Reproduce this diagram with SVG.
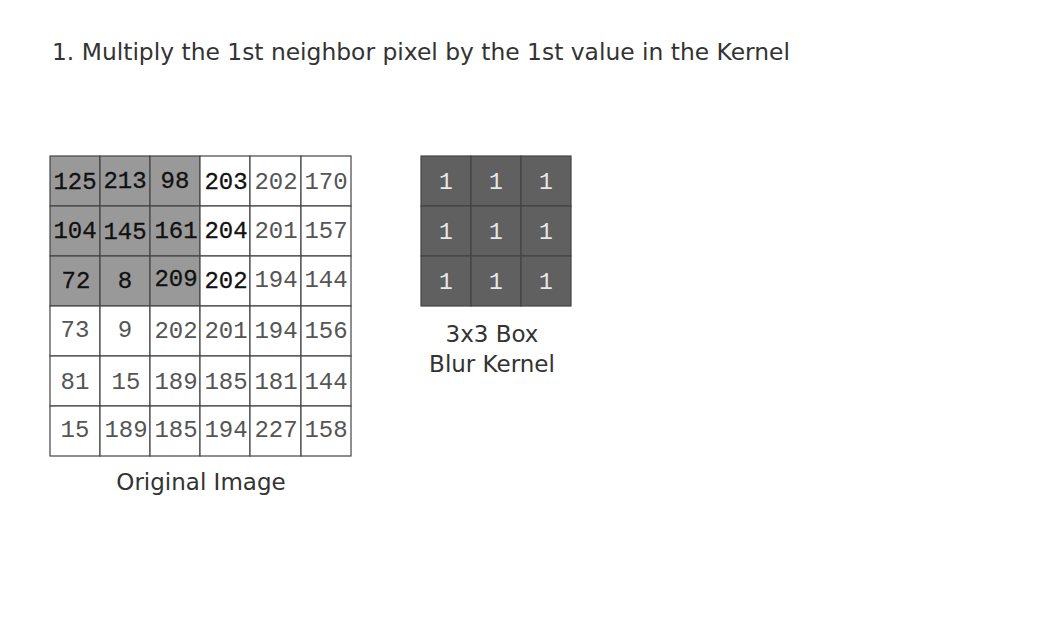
<svg xmlns="http://www.w3.org/2000/svg" width="1050" height="625" viewBox="0 0 1050 625">
<style>
.bg{fill:#fff}
.c{fill:#fff;stroke:#444;stroke-width:1.2}
.g{fill:#999;stroke:#444;stroke-width:1.2}
.k{fill:#606060;stroke:#444;stroke-width:1.2}
.n{font-family:"Liberation Mono","DejaVu Sans Mono",monospace;font-size:24px;text-anchor:middle;fill:#555}
.b{fill:#111;stroke:#111;stroke-width:0.3}
.kn{font-family:"Liberation Mono","DejaVu Sans Mono",monospace;font-size:23px;text-anchor:middle;fill:#e8e8e8}
.t{font-family:"DejaVu Sans","Liberation Sans",sans-serif;fill:#333}
</style>
<rect class="bg" x="0" y="0" width="1050" height="625"/>
<text class="t" x="52" y="60" font-size="23" textLength="738" lengthAdjust="spacingAndGlyphs">1. Multiply the 1st neighbor pixel by the 1st value in the Kernel</text>
<g id="original-image">
<rect class="g" x="50" y="156" width="50" height="50"/><rect class="g" x="100" y="156" width="50" height="50"/><rect class="g" x="150" y="156" width="50" height="50"/>
<rect class="c" x="200" y="156" width="50" height="50"/><rect class="c" x="250" y="156" width="51" height="50"/><rect class="c" x="301" y="156" width="50" height="50"/>
<rect class="g" x="50" y="206" width="50" height="50"/><rect class="g" x="100" y="206" width="50" height="50"/><rect class="g" x="150" y="206" width="50" height="50"/>
<rect class="c" x="200" y="206" width="50" height="50"/><rect class="c" x="250" y="206" width="51" height="50"/><rect class="c" x="301" y="206" width="50" height="50"/>
<rect class="g" x="50" y="256" width="50" height="50"/><rect class="g" x="100" y="256" width="50" height="50"/><rect class="g" x="150" y="256" width="50" height="50"/>
<rect class="c" x="200" y="256" width="50" height="50"/><rect class="c" x="250" y="256" width="51" height="50"/><rect class="c" x="301" y="256" width="50" height="50"/>
<rect class="c" x="50" y="306" width="50" height="50"/><rect class="c" x="100" y="306" width="50" height="50"/><rect class="c" x="150" y="306" width="50" height="50"/>
<rect class="c" x="200" y="306" width="50" height="50"/><rect class="c" x="250" y="306" width="51" height="50"/><rect class="c" x="301" y="306" width="50" height="50"/>
<rect class="c" x="50" y="356" width="50" height="50"/><rect class="c" x="100" y="356" width="50" height="50"/><rect class="c" x="150" y="356" width="50" height="50"/>
<rect class="c" x="200" y="356" width="50" height="50"/><rect class="c" x="250" y="356" width="51" height="50"/><rect class="c" x="301" y="356" width="50" height="50"/>
<rect class="c" x="50" y="406" width="50" height="50"/><rect class="c" x="100" y="406" width="50" height="50"/><rect class="c" x="150" y="406" width="50" height="50"/>
<rect class="c" x="200" y="406" width="50" height="50"/><rect class="c" x="250" y="406" width="51" height="50"/><rect class="c" x="301" y="406" width="50" height="50"/>
<text class="n b" x="75" y="189">125</text><text class="n b" x="125" y="188">213</text><text class="n b" x="175" y="188">98</text>
<text class="n b" x="226" y="189">203</text><text class="n" x="276" y="189">202</text><text class="n" x="326" y="189">170</text>
<text class="n b" x="75" y="238">104</text><text class="n b" x="125" y="239">145</text><text class="n b" x="176" y="238">161</text>
<text class="n b" x="226" y="238">204</text><text class="n" x="276" y="238">201</text><text class="n" x="326" y="238">157</text>
<text class="n b" x="76" y="288">72</text><text class="n b" x="125" y="288">8</text><text class="n b" x="176" y="286">209</text>
<text class="n b" x="226" y="288">202</text><text class="n" x="276" y="287">194</text><text class="n" x="326" y="287">144</text>
<text class="n" x="75" y="337">73</text><text class="n" x="125" y="337">9</text><text class="n" x="176" y="338">202</text>
<text class="n" x="226" y="338">201</text><text class="n" x="276" y="338">194</text><text class="n" x="326" y="338">156</text>
<text class="n" x="75" y="389">81</text><text class="n" x="126" y="389">15</text><text class="n" x="176" y="389">189</text>
<text class="n" x="226" y="389">185</text><text class="n" x="276" y="389">181</text><text class="n" x="326" y="389">144</text>
<text class="n" x="75" y="437">15</text><text class="n" x="126" y="437">189</text><text class="n" x="176" y="437">185</text>
<text class="n" x="226" y="437">194</text><text class="n" x="276" y="437">227</text><text class="n" x="326" y="437">158</text>
<text class="t" x="201" y="490" font-size="23" text-anchor="middle">Original Image</text>
</g>
<g id="kernel">
<rect class="k" x="421" y="156" width="50" height="50"/><rect class="k" x="471" y="156" width="50" height="50"/><rect class="k" x="521" y="156" width="50" height="50"/>
<rect class="k" x="421" y="206" width="50" height="50"/><rect class="k" x="471" y="206" width="50" height="50"/><rect class="k" x="521" y="206" width="50" height="50"/>
<rect class="k" x="421" y="256" width="50" height="50"/><rect class="k" x="471" y="256" width="50" height="50"/><rect class="k" x="521" y="256" width="50" height="50"/>
<text class="kn" x="446" y="189">1</text><text class="kn" x="496" y="189">1</text><text class="kn" x="546" y="189">1</text>
<text class="kn" x="446" y="239">1</text><text class="kn" x="496" y="239">1</text><text class="kn" x="546" y="239">1</text>
<text class="kn" x="446" y="289">1</text><text class="kn" x="496" y="289">1</text><text class="kn" x="546" y="289">1</text>
<text class="t" x="492" y="342" font-size="23" text-anchor="middle">3x3 Box</text>
<text class="t" x="492" y="372" font-size="23" text-anchor="middle">Blur Kernel</text>
</g>
<g id="connectors"/>
</svg>
